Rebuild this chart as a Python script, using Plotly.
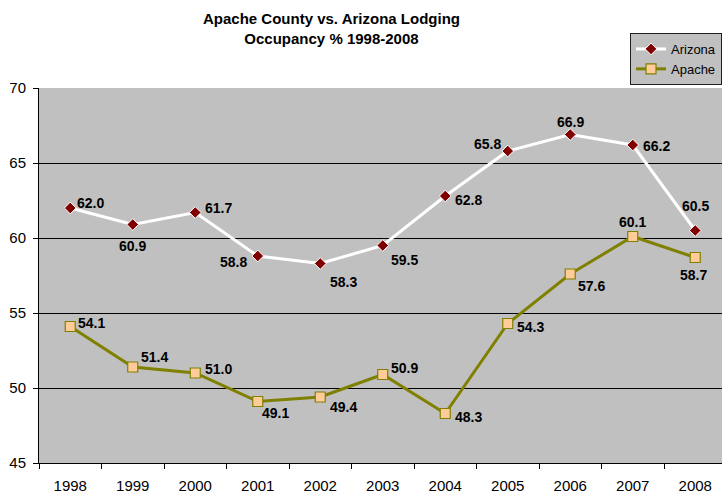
import plotly.graph_objects as go

years = ["1998", "1999", "2000", "2001", "2002", "2003", "2004", "2005", "2006", "2007", "2008"]
arizona = [62.0, 60.9, 61.7, 58.8, 58.3, 59.5, 62.8, 65.8, 66.9, 66.2, 60.5]
apache = [54.1, 51.4, 51.0, 49.1, 49.4, 50.9, 48.3, 54.3, 57.6, 60.1, 58.7]

# label offsets in pixels (dx right, dy up)
az_off = [(20, 5), (0, -21), (23, 5), (-24, -6), (23, -18), (22, -14), (23, -4), (-20, 7), (0, 13), (24, -1), (0, 25)]
ap_off = [(21, 4), (22, 10), (23, 4), (18, -11), (23, -10), (22, 7), (23, -3), (23, -3), (21, -12), (0, 15), (-2, -17)]

FONT = "Arial"
W, H = 722, 497
L, T, B = 39, 88, 34
PW = W - L
PH = H - T - B

fig = go.Figure()
fig.add_trace(go.Scatter(
    x=years, y=arizona, name="Arizona", mode="lines+markers",
    line=dict(color="white", width=3),
    marker=dict(symbol="diamond", size=9, color="#800000", line=dict(color="white", width=1)),
))
fig.add_trace(go.Scatter(
    x=years, y=apache, name="Apache", mode="lines+markers",
    line=dict(color="#808000", width=3),
    marker=dict(symbol="square", size=10, color="#FFCC99", line=dict(color="#808000", width=1.2)),
))

annotations = []
for ys, offs in ((arizona, az_off), (apache, ap_off)):
    for i, (yv, (dx, dy)) in enumerate(zip(ys, offs)):
        annotations.append(dict(
            x=i, y=yv, xref="x", yref="y", text="<b>%.1f</b>" % yv, showarrow=False,
            xshift=dx, yshift=dy,
            font=dict(family=FONT, size=14, color="black"),
        ))

annotations.append(dict(
    x=(331 - L) / PW, y=(T + PH - 28) / PH, xref="paper", yref="paper",
    xanchor="center", yanchor="middle",
    text="<b>Apache County vs. Arizona Lodging<br>Occupancy % 1998-2008</b>",
    showarrow=False, font=dict(family=FONT, size=15, color="black"),
))

fig.update_layout(
    width=W, height=H,
    margin=dict(l=L, r=0, t=T, b=B, autoexpand=False),
    paper_bgcolor="white", plot_bgcolor="#C0C0C0",
    font=dict(family=FONT, color="black"),
    showlegend=True,
    legend=dict(
        x=1, y=(T + PH - 33) / PH, xanchor="right", yanchor="top",
        bgcolor="#C0C0C0", bordercolor="#202020", borderwidth=1,
        font=dict(size=13, family=FONT, color="black"),
        tracegroupgap=0, itemwidth=30,
    ),
    annotations=annotations,
)

fig.update_xaxes(
    type="category", range=[-0.5, -0.5 + PW / 62.5], automargin=False,
    showgrid=False, showline=True, linecolor="black", linewidth=1,
    ticks="outside", tickson="boundaries", ticklen=5, tickcolor="black",
    ticklabelstandoff=9,
    tickfont=dict(size=15, family=FONT, color="black"),
)
fig.update_yaxes(
    range=[45, 70], dtick=5, tick0=45, automargin=False,
    showgrid=True, gridcolor="black", gridwidth=1,
    showline=True, linecolor="black", linewidth=1, mirror=False,
    ticks="outside", ticklen=5, tickcolor="black",
    ticklabelstandoff=4,
    tickfont=dict(size=15, family=FONT, color="black"),
    zeroline=False,
)

fig.write_html(
    "out.html",
    config={"displayModeBar": False},
    post_script="document.body.style.margin='0';document.body.style.overflow='hidden';",
)
